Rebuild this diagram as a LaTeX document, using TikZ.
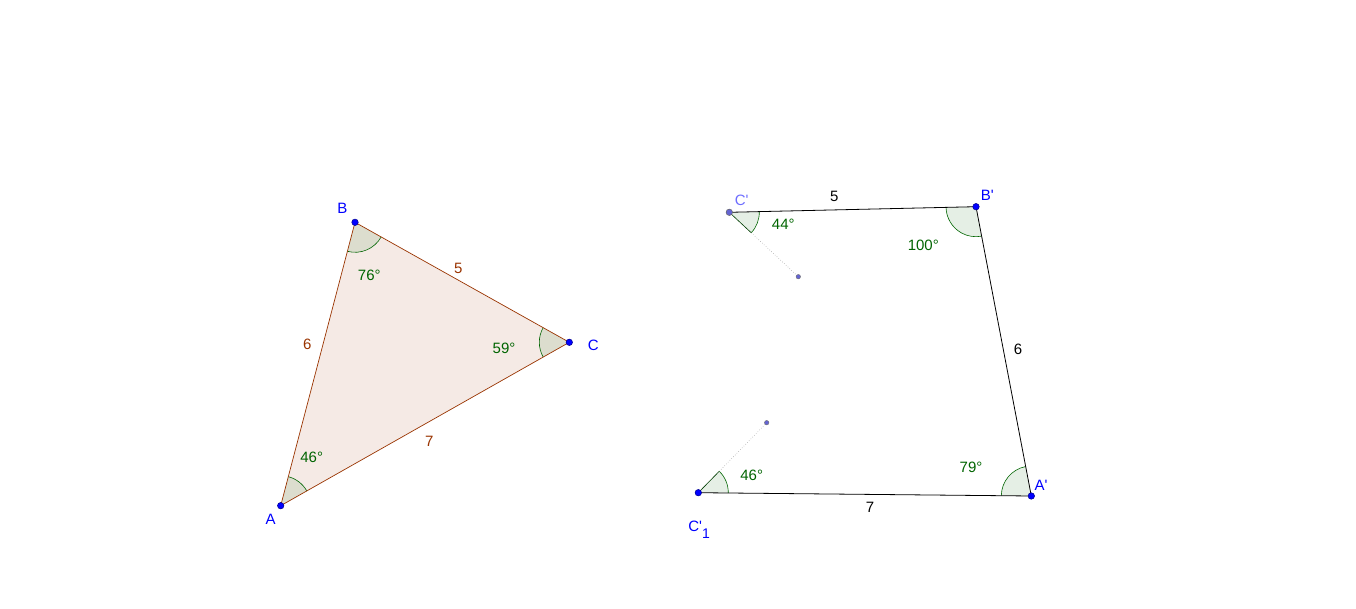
\documentclass[tikz,border=0pt]{standalone}
\usepackage{fontspec}
\setmainfont{Liberation Sans}[Ligatures=TeXOff]
\usetikzlibrary{angles,calc}
\definecolor{ptblue}{RGB}{0,0,255}
\definecolor{cblue}{RGB}{110,110,255}
\definecolor{dotblue}{RGB}{100,100,210}
\definecolor{sidebrown}{RGB}{153,51,0}
\definecolor{anggreen}{RGB}{0,100,0}
\begin{document}
\begin{tikzpicture}[x=1pt,y=-1pt,font=\fontsize{15}{18}\selectfont,
  dot/.style={circle,fill=ptblue,draw=ptblue!55!black,line width=0.5pt,
    inner sep=0pt,minimum size=6.5pt},
  smalldot/.style={circle,fill=dotblue,draw=black!55,line width=0.4pt,
    inner sep=0pt,minimum size=4.5pt},
  wedge/.style={draw=anggreen,line width=0.6pt,fill=anggreen,
    fill opacity=0.1,draw opacity=1,angle radius=30pt},
  vlabel/.style={text=ptblue},
  alabel/.style={text=anggreen},
  slabel/.style={text=sidebrown}]
  \useasboundingbox (0,0) rectangle (1356,609);

  % given triangle
  \begin{scope}
    \coordinate (A) at (280.7,505.7);
    \coordinate (B) at (355,222.3);
    \coordinate (C) at (569.3,342.3);
    \fill[sidebrown,fill opacity=0.1] (A) -- (B) -- (C) -- cycle;
    \pic[wedge] {angle=C--A--B};
    \pic[wedge] {angle=A--B--C};
    \pic[wedge] {angle=B--C--A};
    \draw[sidebrown,line width=0.7pt] (A) -- (B) -- (C) -- cycle;

    \foreach \v in {A,B,C}{
      \node[dot] (d\v) at (\v) {};
    }
    \node[vlabel] (lA) at (270.7,519.3) {A};
    \node[vlabel] (lB) at (342.3,208.3) {B};
    \node[vlabel] (lC) at (593.3,345) {C};

    \node[slabel] (sAB) at (307.3,344.3) {6};
    \node[slabel] (sBC) at (458.3,268.3) {5};
    \node[slabel] (sCA) at (429.3,441.7) {7};

    \node[alabel] (aA) at (311.7,457.3) {46°};
    \node[alabel] (aB) at (369.3,275) {76°};
    \node[alabel] (aC) at (504,348.3) {59°};
  \end{scope}

  % construction
  \begin{scope}
    \coordinate (Cp) at (729.3,212.3);
    \coordinate (Bp) at (976,206.7);
    \coordinate (Ap) at (1031.3,496);
    \coordinate (Cq) at (698.3,492.7);
    \coordinate (P1) at (798.3,276.7);
    \coordinate (P2) at (766.7,422.7);

    \pic[wedge] {angle=P1--Cp--Bp};
    \pic[wedge] {angle=Cp--Bp--Ap};
    \pic[wedge] {angle=Bp--Ap--Cq};
    \pic[wedge] {angle=Ap--Cq--P2};
    \coordinate (R1) at ($(Cp)!30pt!(P1)$);
    \coordinate (R2) at ($(Cq)!30pt!(P2)$);
    \draw[anggreen!60!black,line width=0.6pt] (Cp) -- (R1);
    \draw[anggreen!60!black,line width=0.6pt] (Cq) -- (R2);
    \draw[black!45,dotted,line width=0.5pt] (R1) -- (P1);
    \draw[black!45,dotted,line width=0.5pt] (R2) -- (P2);

    \draw[black,line width=0.8pt] (Cq) -- (Ap) -- (Bp) -- (Cp);

    \foreach \v in {Bp,Ap,Cq}{
      \node[dot] (d\v) at (\v) {};
    }
    \node[dot,fill=dotblue,draw=black!60] (dCp) at (Cp) {};
    \node[smalldot] (dP1) at (P1) {};
    \node[smalldot] (dP2) at (P2) {};

    \node[text=cblue] (lCp) at (741.7,200) {C'};
    \node[vlabel] (lBp) at (987.3,195) {B'};
    \node[vlabel] (lAp) at (1041,485) {A'};
    \node[vlabel,anchor=base west] (lCq) at (684.8,531.6)
      {C'\raisebox{-7pt}{\fontsize{14}{14}\selectfont 1}};

    \node (sCB) at (834.3,196) {5};
    \node (sBA) at (1018,349) {6};
    \node (sAC) at (870,507.3) {7};

    \node[alabel] (aCp) at (783.3,224.3) {44°};
    \node[alabel] (aBp) at (923.3,245) {100°};
    \node[alabel] (aAp) at (971,467.3) {79°};
    \node[alabel] (aCq) at (751.7,475) {46°};
  \end{scope}
\end{tikzpicture}
\end{document}
